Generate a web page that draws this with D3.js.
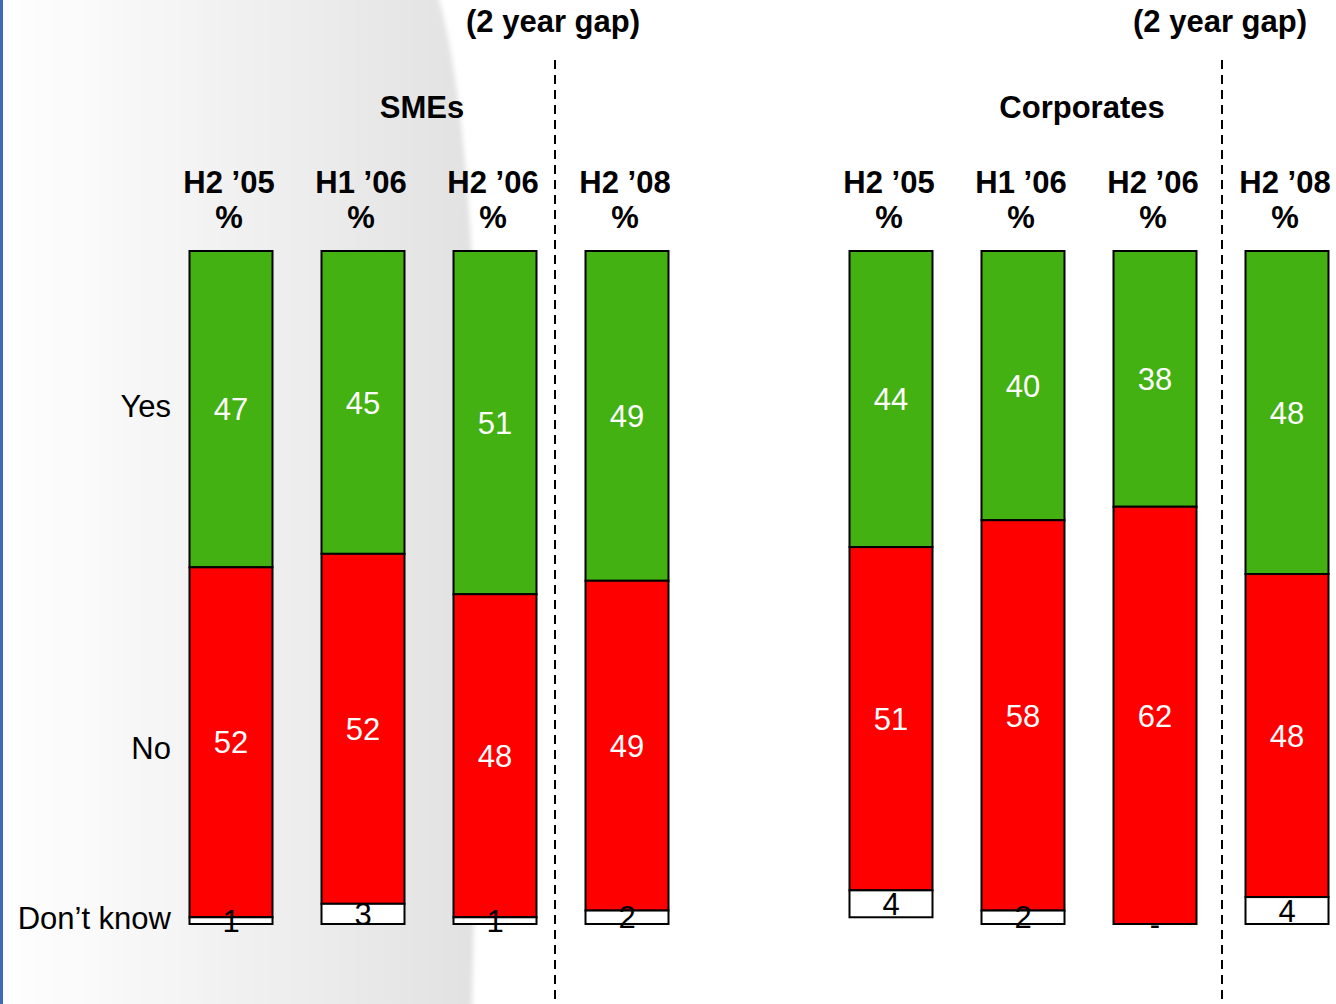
<!DOCTYPE html>
<html>
<head>
<meta charset="utf-8">
<script src="https://cdn.jsdelivr.net/npm/d3@7"></script>
<style>
  html, body { margin: 0; padding: 0; background: #ffffff; }
  svg { display: block; font-family: "Liberation Sans", Arial, Helvetica, sans-serif; }
</style>
</head>
<body>
<svg id="chart" width="1336" height="1004"></svg>
<script>
// Survey answers per period, split by segment
const groups = ["SMEs", "Corporates"];
const periods = ["H2 \u201905", "H1 \u201906", "H2 \u201906", "H2 \u201908"];
const smeYes = [47, 45, 51, 49];
const smeNo = [52, 52, 48, 49];
const smeDontKnow = [1, 3, 1, 2];
const corpYes = [44, 40, 38, 48];
const corpNo = [51, 58, 62, 48];
const corpDontKnow = [4, 2, 0, 4];
const rowLabels = ["Yes", "No", "Don\u2019t know"];
const gapNote = "(2 year gap)";
const unitLabel = "%";

const W = 1336, H = 1004;
const svg = d3.select("#chart");

// Soft grey panel behind the left part of the chart
const defs = svg.append("defs");
const grad = defs.append("linearGradient").attr("id", "panelGrad")
  .attr("x1", 0).attr("x2", 1).attr("y1", 0).attr("y2", 0);
grad.append("stop").attr("offset", "0%").attr("stop-color", "#ffffff");
grad.append("stop").attr("offset", "20%").attr("stop-color", "#fafafa");
grad.append("stop").attr("offset", "60%").attr("stop-color", "#eeeeee");
grad.append("stop").attr("offset", "100%").attr("stop-color", "#e1e1e1");
defs.append("filter").attr("id", "soft").attr("x", "-5%").attr("width", "110%")
  .append("feGaussianBlur").attr("stdDeviation", 2.5);

svg.append("path")
  .attr("d", "M-10,-10 L436,-10 C462,70 478,250 478,500 C478,760 474,900 472,1014 L-10,1014 Z")
  .attr("fill", "url(#panelGrad)")
  .attr("filter", "url(#soft)");

// Thin blue rule on the left edge
svg.append("rect").attr("x", 0).attr("y", 0).attr("width", 3).attr("height", H).attr("fill", "#3f6cb3");

// Slot layout: four SME bars, one empty slot, four Corporate bars
const slots = [0, 1, 2, 3, 4, 5, 6, 7, 8];
const x = d3.scalePoint().domain(slots).range([231, 1287]);
const barW = 83;
const y = d3.scaleLinear().domain([0, 100]).range([251, 924]);

const data = [];
periods.forEach((p, i) => data.push({ group: 0, period: p, slot: i, yes: smeYes[i], no: smeNo[i], dk: smeDontKnow[i] }));
periods.forEach((p, i) => data.push({ group: 1, period: p, slot: 5 + i, yes: corpYes[i], no: corpNo[i], dk: corpDontKnow[i] }));

const colors = { yes: "#42b111", no: "#ff0000", dk: "#ffffff" };
const labelColors = { yes: "#ffffff", no: "#ffffff", dk: "#000000" };
const keys = ["yes", "no", "dk"];

data.forEach(d => {
  let acc = 0;
  d.segs = keys.map(k => {
    const s = { key: k, v: d[k], y0: acc, y1: acc + d[k] };
    acc += d[k];
    return s;
  });
});

// Dashed separators marking the 2 year gap before H2 '08
const gapX = [555, 1222];
gapX.forEach(gx => {
  svg.append("line").attr("x1", gx).attr("x2", gx).attr("y1", 60).attr("y2", H)
    .attr("stroke", "#000").attr("stroke-width", 2).attr("stroke-dasharray", "9,6");
  svg.append("text").attr("x", gx - 2).attr("y", 32).attr("text-anchor", "middle")
    .attr("font-size", 31).attr("font-weight", "bold").attr("fill", "#000").text(gapNote);
});

// Segment titles
groups.forEach((g, gi) => {
  const cx = (x(gi * 5) + x(gi * 5 + 3)) / 2 - 7;
  svg.append("text").attr("x", cx).attr("y", 118).attr("text-anchor", "middle")
    .attr("font-size", 31).attr("font-weight", "bold").attr("fill", "#000").text(g);
});

// Period headers: period name with the unit underneath
const heads = svg.selectAll("g.head").data(data).join("g").attr("class", "head")
  .attr("text-anchor", "middle")
  .attr("font-size", 31).attr("font-weight", "bold").attr("fill", "#000");
heads.append("text").attr("x", d => x(d.slot) - 2).attr("y", 193).text(d => d.period);
heads.append("text").attr("x", d => x(d.slot) - 2).attr("y", 228).text(unitLabel);

// Stacked bars
const bars = svg.selectAll("g.bar").data(data).join("g").attr("class", "bar");
bars.selectAll("rect").data(d => d.segs.filter(s => s.v > 0).map(s => ({ ...s, slot: d.slot })))
  .join("rect")
  .attr("x", s => x(s.slot) - barW / 2)
  .attr("y", s => y(s.y0))
  .attr("width", barW)
  .attr("height", s => y(s.y1) - y(s.y0))
  .attr("fill", s => colors[s.key])
  .attr("stroke", "#000")
  .attr("stroke-width", 2);

// Value labels centred in each segment ("-" when nobody answered)
bars.selectAll("text").data(d => d.segs.map(s => ({ ...s, slot: d.slot })))
  .join("text")
  .attr("x", s => x(s.slot))
  .attr("y", s => (y(s.y0) + y(s.y1)) / 2)
  .attr("dy", "0.36em")
  .attr("text-anchor", "middle")
  .attr("font-size", 31)
  .attr("fill", s => labelColors[s.key])
  .text(s => s.v > 0 ? s.v : "-");

// Row labels to the left of the first bar
const rowY = [417, 759, 929];
rowLabels.forEach((t, i) => {
  svg.append("text").attr("x", 171).attr("y", rowY[i]).attr("text-anchor", "end")
    .attr("font-size", 31).attr("fill", "#000").text(t);
});
</script>
</body>
</html>
